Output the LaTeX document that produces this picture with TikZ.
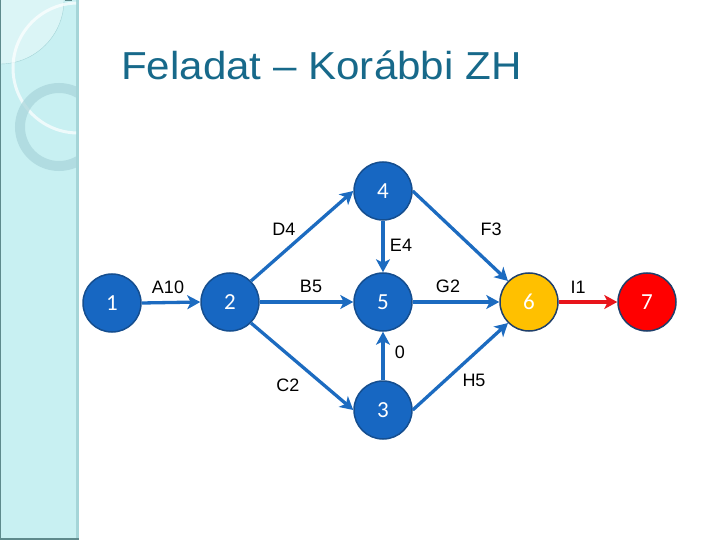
\documentclass[tikz,border=0pt]{standalone}
\usepackage{fontspec}
\setmainfont{Liberation Sans}
\newfontfamily\numfont{Carlito}
\usepackage{xcolor}
\usetikzlibrary{arrows.meta,positioning}
\definecolor{sidecyan}{HTML}{C8F0F2}
\definecolor{sidestrip}{HTML}{A5D5D8}
\definecolor{sidedark}{HTML}{5E8A8C}
\definecolor{ringcol}{HTML}{A8D4DA}
\definecolor{titleblue}{HTML}{17698A}
\definecolor{nodeblue}{HTML}{1767C2}
\definecolor{nodeedge}{HTML}{154E8F}
\definecolor{arcblue}{HTML}{1C6BC0}
\definecolor{navy}{HTML}{1F3F6A}
\definecolor{ngold}{HTML}{FFC000}
\definecolor{nred}{HTML}{FF0000}
\definecolor{ared}{HTML}{E8151B}

\tikzset{
  event/.style={circle,minimum size=58pt,inner sep=0pt,fill=nodeblue,
    draw=nodeedge,line width=1.5pt,text=white,font=\numfont\fontsize{23}{25}\selectfont},
  task/.style={arcblue,line width=3.3pt,
    -{Stealth[length=13pt,width=14pt,inset=3.5pt]}},
  lbl/.style={font=\fontsize{18}{20}\selectfont,inner sep=0pt}
}

\begin{document}
\begin{tikzpicture}[x=1pt,y=-1pt]
  \useasboundingbox (0,0) rectangle (720,540);
  % sidebar
  \fill[sidecyan] (0,0) rectangle (76,540);
  \fill[sidestrip] (76,0) rectangle (79,540);
  \begin{scope}
    \clip (0,0) rectangle (76,540);
    \fill[white,opacity=0.35] (0,0) circle (64);
    \draw[sidestrip,line width=0.4pt] (0,0) circle (64);
    \draw[white,opacity=0.7,line width=3pt] (78,68) circle (65);
    \draw[ringcol,opacity=0.7,line width=10pt] (59,127) circle (39);
  \end{scope}
  \fill[sidedark] (0,0) rectangle (1,540);
  \fill[sidedark] (0,538) rectangle (79,540);
  \fill[sidedark] (65,0) rectangle (72,1.5);

  % title
  \node[text=titleblue,anchor=base west,inner sep=0pt] (title) at (121,80)
    {\scalebox{1.08}[1]{\fontsize{39}{42}\selectfont Feladat -- Korábbi ZH}};

  % events
  \node[event] (n1) at (112,303) {1};
  \node[event] (n2) at (230,302) {2};
  \node[event] (n4) at (383,191) {4};
  \node[event] (n5) at (383,302) {5};
  \node[event] (n3) at (383,410) {3};
  \node[event,fill=ngold,draw=navy] (n6) at (529,302) {6};
  \node[event,fill=nred,draw=navy] (n7) at (647,302) {7};

  % tasks
  \draw[task] (n1.east) -- (n2.west);
  \draw[task] (n2.north east) -- (n4.west);
  \draw[task] (n2.east) -- (n5.west);
  \draw[task] (n2.south east) -- (n3.west);
  \draw[task] (n4.south) -- (n5.north);
  \draw[task] (n4.east) -- (n6.north west);
  \draw[task] (n5.east) -- (n6.west);
  \draw[task] (n3.north) -- (n5.south);
  \draw[task] (n3.east) -- (n6.south west);
  \draw[task,ared] (n6.east) -- (n7.west);

  % labels
  \node[lbl] (lA) at (168,287) {A10};
  \node[lbl] (lB) at (311,286) {B5};
  \node[lbl] (lC) at (288,385) {C2};
  \node[lbl] (lD) at (284,229) {D4};
  \node[lbl] (lE) at (401,245) {E4};
  \node[lbl] (lF) at (491,229) {F3};
  \node[lbl] (lG) at (448,286) {G2};
  \node[lbl] (lH) at (474,380) {H5};
  \node[lbl] (lI) at (578,287) {I1};
  \node[lbl] (l0) at (400,352) {0};
\end{tikzpicture}
\end{document}
